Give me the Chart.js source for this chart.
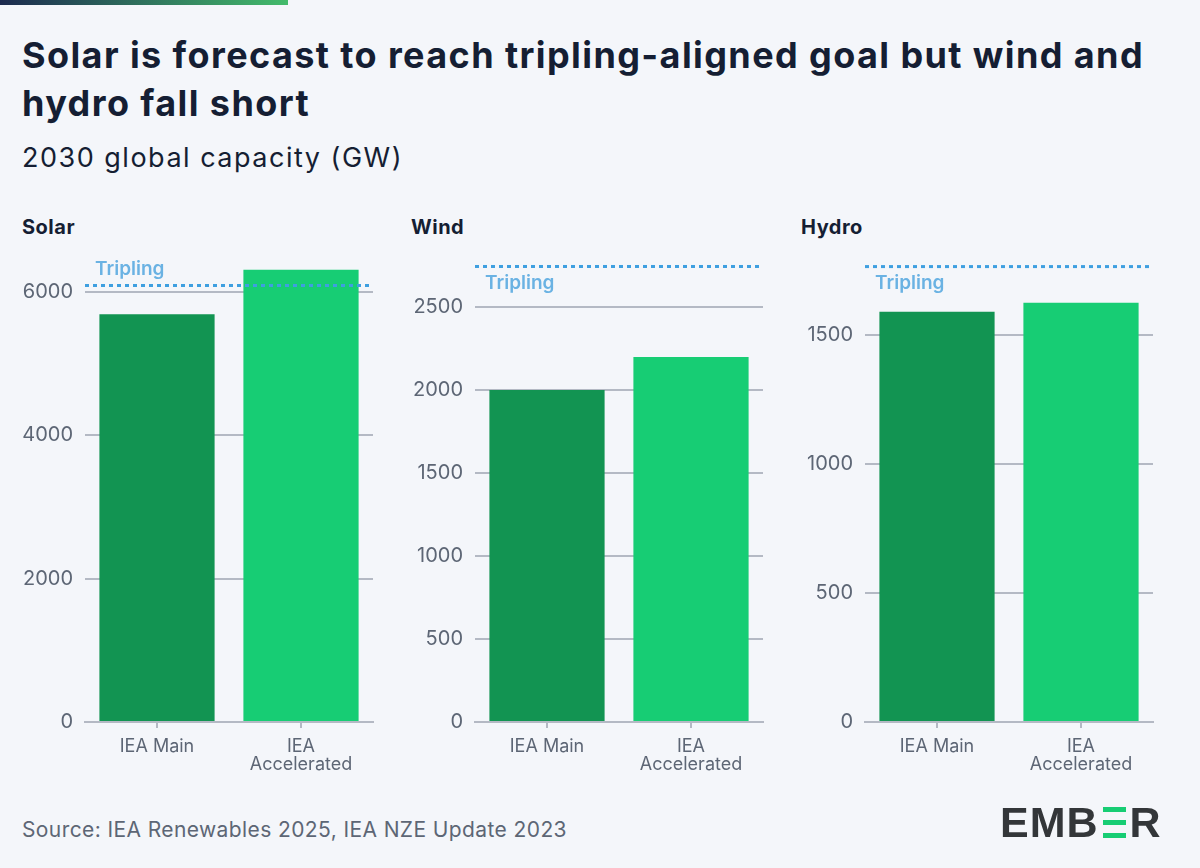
<!DOCTYPE html>
<html>
<head>
<meta charset="utf-8">
<script src="https://cdn.jsdelivr.net/npm/chart.js@4.4.1/dist/chart.umd.min.js"></script>
<style>
    body { margin: 0; width: 1200px; height: 868px; overflow: hidden; position: relative;
           background: #f4f6fa; font-family: Inter, 'Noto Sans', sans-serif; color: #151e33; }
    #topbar { position: absolute; left: 0; top: 0; width: 288px; height: 5px;
              background: linear-gradient(90deg, #1c2a4f, #43bb6b); }
    h1 { position: absolute; left: 22px; top: 31px; margin: 0; width: 1170px;
         font-size: 36px; line-height: 48px; font-weight: 700; letter-spacing: 1.4px; }
    .sub { position: absolute; left: 22px; top: 141px; font-size: 27px; line-height: 34px; letter-spacing: 1.5px; }
    .panel-title { position: absolute; top: 215px; font-size: 20px; line-height: 24px; font-weight: 700; letter-spacing: 0.5px; }
    canvas { position: absolute; top: 240px; }
    .source { position: absolute; left: 22px; top: 817px; font-size: 21px; line-height: 26px; color: #5d6675; letter-spacing: 0.4px; }
    #logo { position: absolute; left: 1000px; top: 800px; height: 44px; display: flex; align-items: center;
            font-family: 'Liberation Sans', sans-serif; font-weight: 700; font-size: 43px; color: #333639;
            letter-spacing: 1px; }
    #logo .bars { display: inline-flex; flex-direction: column; justify-content: space-between;
                  width: 23px; height: 31px; margin: 0 4px 0 4px; }
    #logo .bars i { display: block; height: 5px; background: #17cd74; }
</style>
</head>
<body>
<div id="topbar"></div>
<h1>Solar is forecast to reach tripling-aligned goal but wind and<br>hydro fall short</h1>
<div class="sub">2030 global capacity (GW)</div>

<div class="panel-title" style="left:22px">Solar</div>
<div class="panel-title" style="left:411px">Wind</div>
<div class="panel-title" style="left:801px">Hydro</div>

<canvas id="c0" width="390" height="560" style="left:0px"></canvas>
<canvas id="c1" width="390" height="560" style="left:390px"></canvas>
<canvas id="c2" width="390" height="560" style="left:780px"></canvas>

<div class="source">Source: IEA Renewables 2025, IEA NZE Update 2023</div>
<div id="logo" aria-label="EMBER"><span>EMB</span><span class="bars"><i></i><i></i><i></i></span><span>R</span></div>

<script>
// 数据
const scenarios = [['IEA Main'], ['IEA', 'Accelerated']];
const solarValues = [5690, 6310];
const windValues = [2000, 2200];
const hydroValues = [1590, 1625];
const triplingValues = [6090, 2745, 1765]; // solar, wind, hydro

// 刻度
const solarTicks = [0, 2000, 4000, 6000];
const windTicks = [0, 500, 1000, 1500, 2000, 2500];
const hydroTicks = [0, 500, 1000, 1500];
const yMax = [6390, 2760, 1775];
const labelAbove = [true, false, false];

const FONT = 'Inter, "Noto Sans", sans-serif';
const GRID = '#b4b9c4';
const TICK = '#5d6675';

// 三倍目标虚线
const triplingLine = {
    id: 'triplingLine',
    afterDatasetsDraw(chart, args, opts) {
        const { ctx, chartArea, scales } = chart;
        const y = scales.y.getPixelForValue(opts.value);
        ctx.save();
        ctx.strokeStyle = '#3e9fe0';
        ctx.lineWidth = 3;
        ctx.setLineDash([4, 4]);
        ctx.beginPath();
        ctx.moveTo(chartArea.left, y);
        ctx.lineTo(chartArea.right - 2, y);
        ctx.stroke();
        ctx.setLineDash([]);
        ctx.fillStyle = '#6ab2e3';
        ctx.font = '600 19px ' + FONT;
        ctx.textBaseline = 'middle';
        ctx.fillText('Tripling', chartArea.left + 10, opts.above ? y - 16 : y + 17);
        ctx.restore();
    }
};

function makeChart(id, values, ticks, i) {
    return new Chart(document.getElementById(id), {
        type: 'bar',
        data: {
            labels: scenarios,
            datasets: [{
                data: values,
                backgroundColor: ['#129452', '#17cd74'],
                barPercentage: 0.8,
                categoryPercentage: 1
            }]
        },
        options: {
            responsive: false,
            animation: false,
            layout: { padding: { top: 24, right: 17, left: 0, bottom: 0 } },
            plugins: {
                legend: { display: false },
                tooltip: { enabled: false },
                triplingLine: { value: triplingValues[i], above: labelAbove[i] }
            },
            scales: {
                x: {
                    grid: { drawOnChartArea: false, offset: false, color: GRID, lineWidth: 2, tickLength: 6 },
                    border: { color: GRID, width: 2 },
                    ticks: { color: TICK, font: { family: FONT, size: 18, lineHeight: 1.0 }, padding: 10, maxRotation: 0 },
                    afterFit(s) { s.height = 78; }
                },
                y: {
                    min: 0,
                    max: yMax[i],
                    bounds: 'data',
                    border: { display: false },
                    grid: { color: GRID, lineWidth: 2, drawTicks: false },
                    ticks: { color: TICK, font: { family: FONT, size: 20 }, padding: 12,
                             callback: v => String(v) },
                    afterBuildTicks(s) { s.ticks = ticks.map(v => ({ value: v })); },
                    afterFit(s) { s.width = 85; }
                }
            }
        },
        plugins: [triplingLine]
    });
}

makeChart('c0', solarValues, solarTicks, 0);
makeChart('c1', windValues, windTicks, 1);
makeChart('c2', hydroValues, hydroTicks, 2);
</script>
</body>
</html>
